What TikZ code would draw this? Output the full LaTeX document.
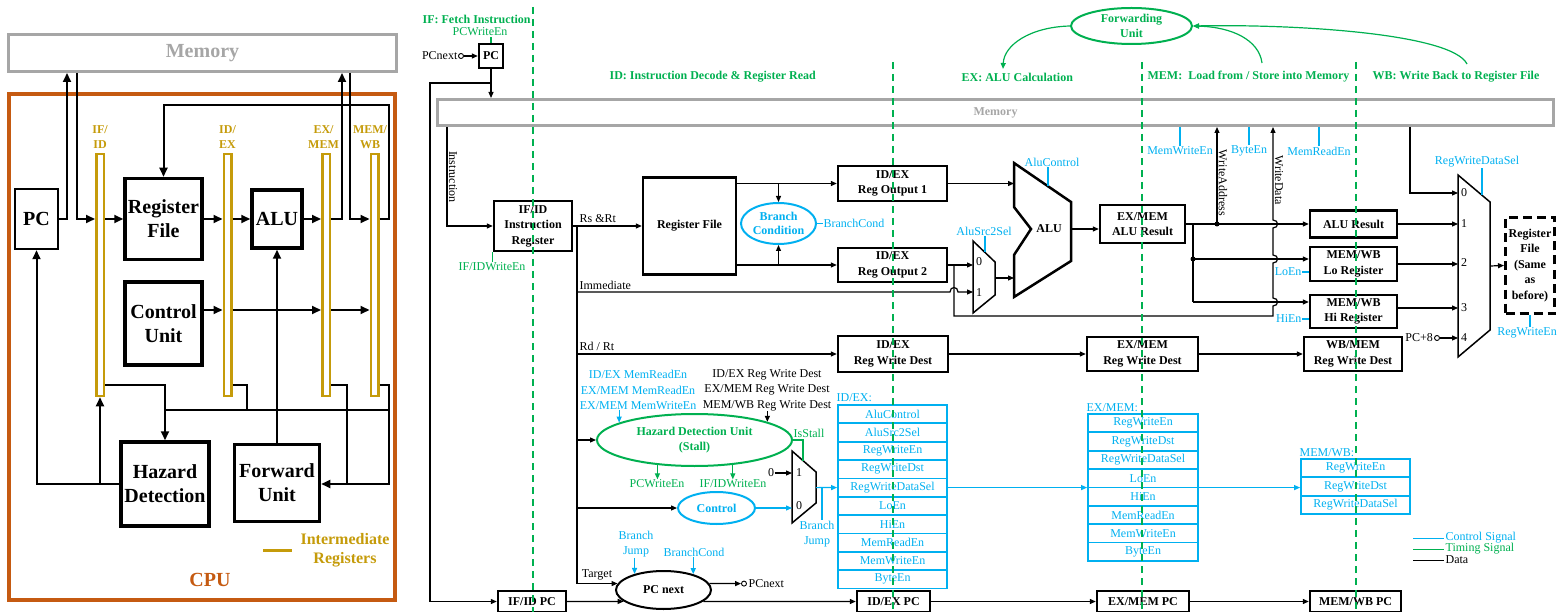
\documentclass[tikz,border=0pt]{standalone}
\usepackage{fontspec}
\setmainfont{Liberation Serif}
\usepackage{xcolor}
\usetikzlibrary{arrows.meta,shapes.geometric}

\definecolor{ctlblue}{RGB}{0,176,240}
\definecolor{timgreen}{RGB}{0,176,80}
\definecolor{regold}{RGB}{197,155,10}
\definecolor{cpuorange}{RGB}{197,90,17}
\definecolor{memgray}{RGB}{166,166,166}

\begin{document}
\begin{tikzpicture}[x=1pt,y=-1pt,line width=1.2pt,>={Triangle[length=6pt,width=5pt]},
  blk/.style={draw,line width=2.4pt,fill=white,align=center,inner sep=0pt,
    font=\bfseries\fontsize{12}{15.5}\selectfont},
  bigblk/.style={draw,line width=3.5pt,fill=white,align=center,inner sep=0pt,
    font=\bfseries\fontsize{20}{24}\selectfont},
  regbar/.style={draw=regold,line width=2.5pt,fill=white,inner sep=0pt,
    minimum width=7.5pt,minimum height=242pt},
  barlbl/.style={text=regold,align=center,inner sep=0pt,
    font=\bfseries\fontsize{12}{15}\selectfont},
  lbl/.style={inner sep=0pt,font=\fontsize{12}{15.5}\selectfont},
  phase/.style={inner sep=0pt,anchor=west,text=timgreen,
    font=\bfseries\fontsize{12}{14}\selectfont},
  oval/.style={ellipse,draw,line width=2pt,fill=white,align=center,inner sep=0pt,
    font=\bfseries\fontsize{12}{14.5}\selectfont},
  ctl/.style={ctlblue},
  tim/.style={timgreen},
  ctlrow/.style={draw=ctlblue,line width=1.8pt,text=ctlblue,inner sep=0pt,
    minimum width=109pt,minimum height=18.35pt,font=\fontsize{12}{13}\selectfont},
  portdot/.style={circle,draw,line width=0.9pt,fill=white,inner sep=0pt,minimum size=5pt},
  mux/.style={line width=1.5pt,fill=white},
  Lline/.style={line width=2pt},
  Larr/.style={line width=2pt,-{Triangle[length=9pt,width=8pt]}}]
  \useasboundingbox (0,0) rectangle (1557,612);

  % ---------------- left: overview of the CPU ----------------
  \node[draw=cpuorange,line width=4pt,minimum width=386pt,minimum height=506pt,inner sep=0pt] (cpu) at (202,347) {};
  \node[draw=memgray,line width=3pt,minimum width=388pt,minimum height=37pt,inner sep=0pt,
        text=memgray,font=\bfseries\fontsize{20}{24}\selectfont] (memL) at (202.5,53) {Memory};
  \node[bigblk,line width=2.5pt,minimum width=43pt,minimum height=60pt] (pcL) at (36.5,219) {PC};
  \node[bigblk,minimum width=77pt,minimum height=81pt] (rfL) at (163.5,219) {Register\\File};
  \node[bigblk,minimum width=50pt,minimum height=58pt] (aluL) at (277,219) {ALU};
  \node[bigblk,minimum width=77pt,minimum height=83pt] (ctlL) at (163.5,323.5) {Control\\Unit};
  \node[bigblk,minimum width=88pt,minimum height=84pt] (hazL) at (165,484) {Hazard\\Detection};
  \node[bigblk,minimum width=85pt,minimum height=77pt] (fwdL) at (277,483) {Forward\\Unit};
  \foreach \nm/\x in {ifidB/100,idexB/227.5,exmemB/326,memwbB/374.5}
    \node[regbar] (\nm) at (\x,275) {};
  \node[barlbl] (ifidT) at (100,137) {IF/\\ID};
  \node[barlbl] (idexT) at (227.5,137) {ID/\\EX};
  \node[barlbl] (exmemT) at (323.5,137) {EX/\\MEM};
  \node[barlbl] (memwbT) at (370,137) {MEM/\\WB};

  \coordinate (pcUp) at (67,0);
  \coordinate (memDn) at (77,0);
  \coordinate (exUp) at (342,0);
  \coordinate (wbDn) at (350,0);
  \coordinate (fbx) at (389,0);
  \coordinate (fby) at (0,105);
  \coordinate (cy) at (0,310);
  \coordinate (ybus1) at (0,385);
  \coordinate (ybus2) at (0,410);
  \coordinate (yfw) at (0,484);
  \coordinate (hx2) at (247,0);
  \coordinate (fx1) at (347,0);

  \draw[Larr] (pcL.east) -| (pcUp |- memL.south);
  \draw[Larr] (memDn |- memL.south) |- (ifidB.west |- pcL.east);
  \draw[Larr] (ifidB.east |- rfL.west) -- (rfL.west);
  \draw[Larr] (rfL.east) -- (idexB.west |- rfL.east);
  \draw[Larr] (idexB.east |- aluL.west) -- (aluL.west);
  \draw[Larr] (aluL.east) -- (exmemB.west |- aluL.east);
  \draw[Larr] (exmemB.east |- aluL.east) -| (exUp |- memL.south);
  \draw[Larr] (wbDn |- memL.south) |- (memwbB.west |- aluL.east);
  \draw[Larr] (memwbB.east |- aluL.east) -| (fbx |- fby) -| (rfL.north);
  \draw[Larr] (ctlL.east |- cy) -- (idexB.west |- cy);
  \draw[Larr] (idexB.east |- cy) -- (exmemB.west |- cy);
  \draw[Larr] (exmemB.east |- cy) -- (memwbB.west |- cy);
  \draw[Larr] (fwdL.north) -- (aluL.south);
  % stage registers feed both hazard detection and forwarding
  \draw[Larr] (ifidB.east |- ybus1) -| (hazL.north);
  \draw[Lline] (idexB.east |- ybus1) -| (hx2 |- ybus2);
  \draw[Lline] (hazL.north |- ybus2) -- (fbx |- ybus2);
  \draw[Lline] (exmemB.east |- ybus1) -| (fx1 |- yfw);
  \draw[Larr] (memwbB.east |- ybus1) -| (fbx |- yfw) -- (fwdL.east |- yfw);
  \draw[Larr] (hazL.west) -| (pcL.south);
  \draw[Larr] (ifidB.south |- hazL.west) -- (ifidB.south);

  \draw[regold,line width=3pt] (263,550) -- (292,550);
  \node[barlbl,font=\bfseries\fontsize{16}{19}\selectfont] (irT) at (345,550) {Intermediate\\Registers};
  \node[text=cpuorange,font=\bfseries\fontsize{20}{24}\selectfont] (cpuT) at (210,580) {CPU};

  % ---------------- right: the five pipeline stages ----------------
  \node[phase] (iflab) at (422,19) {IF: Fetch Instruction};
  \node[phase] (idlab) at (609,77) {ID: Instruction Decode \& Register Read};
  \node[phase] (exlab) at (961,77) {EX: ALU Calculation};
  \node[phase] (memlab) at (1147,77) {MEM:\ \ Load from / Store into Memory};
  \node[phase] (wblab) at (1372,77) {WB: Write Back to Register File};
  \node[oval,draw=timgreen,text=timgreen,minimum width=121pt,minimum height=36pt] (fwd) at (1131.5,26) {Forwarding\\Unit};
  \coordinate (exIn) at (1003,69);
  \coordinate (memOut) at (1262,63);
  \coordinate (wbOut) at (1467,64);
  \draw[tim,->] (fwd.west) .. controls (1030,27) and (1004,45) .. (exIn);
  \draw[tim,<-] (fwd.east) .. controls (1232,27) and (1259,40) .. (memOut);
  \draw[tim,<-] (fwd.east) .. controls (1300,24) and (1452,34) .. (wbOut);

  \node[draw=memgray,line width=3pt,minimum width=1116pt,minimum height=26pt,inner sep=0pt,
        text=memgray,font=\bfseries\fontsize{12}{14}\selectfont] (mem) at (995.5,112.5) {Memory};

  % IF
  \node[blk,minimum width=24pt,minimum height=24pt] (pc) at (491,56) {PC};
  \node[portdot] (pci) at (461,56) {};
  \node[lbl,anchor=east] (pcil) at (458,56) {PCnext};
  \node[lbl,text=timgreen] (pcwe) at (480,32) {PCWriteEn};
  \coordinate (loopx) at (430,0);
  \coordinate (loopy) at (0,83);
  \coordinate (instx) at (447,0);
  \draw[->] (pci.east) -- (pc.west);
  \draw[tim] (pc.north) -- (pc.north |- pcwe.south);
  \draw[->] (pc.south) -- (pc.south |- mem.north);

  % ID
  \node[blk,minimum width=78pt,minimum height=50pt] (ifid) at (533,226) {IF/ID\\Instruction\\Register};
  \node[lbl,text=timgreen] (ifwe) at (492,267) {IF/IDWriteEn};
  \node[lbl,rotate=-90] (instl) at (453,177) {Instruction};
  \node[blk,minimum width=93pt,minimum height=97pt] (rf) at (689.5,226) {Register File};
  \node[oval,draw=ctlblue,text=ctlblue,minimum width=75pt,minimum height=41pt] (brc) at (778.5,223.5) {Branch\\Condition};
  \node[lbl,text=ctlblue,anchor=west] (bcl) at (823,223.5) {BranchCond};
  \node[blk,minimum width=109pt,minimum height=35pt] (idex1) at (892.5,183.5) {ID/EX\\Reg Output 1};
  \node[blk,minimum width=109pt,minimum height=34pt] (idex2) at (892.5,265) {ID/EX\\Reg Output 2};
  \node[blk,minimum width=110pt,minimum height=36pt] (idexrwd) at (893,354) {ID/EX\\Reg Write Dest};
  \node[oval,draw=timgreen,text=timgreen,minimum width=195pt,minimum height=52pt] (hdu) at (694.5,440) {Hazard Detection Unit\\(Stall)};
  \node[oval,draw=ctlblue,text=ctlblue,minimum width=77pt,minimum height=32pt] (ctl) at (716.5,508) {Control};
  \node[oval,minimum width=95pt,minimum height=38pt] (pcnext) at (663.5,590) {PC next};
  \node[blk,minimum width=68pt,minimum height=21pt] (ifidpc) at (532,601.5) {IF/ID PC};
  \node[lbl,text=ctlblue,align=center] (hdin1) at (638,390) {ID/EX MemReadEn\\EX/MEM MemReadEn\\EX/MEM MemWriteEn};
  \node[lbl,align=center] (hdin2) at (767,390) {ID/EX Reg Write Dest\\EX/MEM Reg Write Dest\\MEM/WB Reg Write Dest};
  \node[lbl,text=timgreen] (hdo1) at (657,484) {PCWriteEn};
  \node[lbl,text=timgreen] (hdo2) at (733,484) {IF/IDWriteEn};
  \node[lbl,text=timgreen] (isst) at (809,433) {IsStall};
  \node[lbl,text=ctlblue,align=center] (bjn) at (636,544) {Branch\\Jump};
  \node[lbl,text=ctlblue] (bcn) at (694,552) {BranchCond};
  \node[lbl] (tgt) at (597,575) {Target};
  \node[portdot] (pco) at (744,583.6) {};
  \node[lbl,anchor=west] (pcol) at (748,583.6) {PCnext};

  \coordinate (busx) at (577,0);
  \coordinate (brx) at (778.5,0);
  \coordinate (yImm) at (0,292);
  \draw[->] (pc.south |- loopy) -| (loopx |- ifidpc.west) -- (ifidpc.west);
  \draw[->] (instx |- mem.south) |- (ifid.west);
  \draw[tim] (ifid.south west) -- (ifid.south west |- ifwe.north);
  \draw[->] (ifid.east) -- (rf.west);
  \node[lbl,anchor=south west] (rsrt) at (579,223) {Rs \&Rt};
  \draw (busx |- ifid.east) -- (busx |- pcnext.172);
  \draw[->] (busx |- yImm) -- ++(373,0) .. controls +(0,-6) and +(0,-6) .. ++(8,0) -- (973,292);
  \node[lbl,anchor=south west] (imml) at (579,290) {Immediate};
  \draw[->] (busx |- idexrwd.west) -- (idexrwd.west);
  \node[lbl,anchor=south west] (rdrt) at (579,351) {Rd / Rt};
  \draw[->] (busx |- hdu.west) -- (hdu.west);
  \draw[->] (busx |- ctl.west) -- (ctl.west);
  \draw[->] (busx |- pcnext.172) -- (pcnext.172);
  \draw[->] (rf.east |- idex1.west) -- (idex1.west);
  \draw[->] (rf.east |- idex2.west) -- (idex2.west);
  \draw[->] (brx |- idex1.west) -- (brc.north);
  \draw[->] (brx |- idex2.west) -- (brc.south);
  \draw[ctl] (brc.east) -- (bcl.west);
  \draw[ctl,->] (hdu.167 |- hdin1.south) -- (hdu.167);
  \draw[->] (hdu.14 |- hdin2.south) -- (hdu.14);
  \draw[tim,->] (hdu.214) -- (hdu.214 |- hdo1.north);
  \draw[tim,->] (hdu.327) -- (hdu.327 |- hdo2.north);
  \draw[ctl,->] (pcnext.151 |- bjn.south) -- (pcnext.151);
  \draw[ctl,->] (pcnext.28 |- bcn.south) -- (pcnext.28);
  \draw[->] (pcnext.8) -- (pco.west);

  % stall multiplexer in front of the control word
  \draw[mux] (792,451) -- (816,472) -- (816,503) -- (792,523) -- cycle;
  \coordinate (smin1) at (792,473);
  \coordinate (smL) at (792,0);
  \coordinate (smout) at (816,487.6);
  \coordinate (smtop) at (803,460.6);
  \coordinate (bjx) at (822,487.6);
  \node[lbl] (sm1) at (799,473) {1};
  \node[lbl] (sm0) at (799,506) {0};
  \node[lbl] (zero) at (771,473) {0};
  \node[lbl,text=ctlblue,align=center] (bjm) at (817,534) {Branch\\Jump};
  \draw[->] (zero.east) -- (smin1);
  \draw[ctl,->] (ctl.east) -- (smL |- ctl.east);
  \draw[tim] (hdu.east) -| (smtop);
  \draw[ctl] (bjx) -- (bjx |- bjm.north);

  % control words carried down the pipe
  \node[lbl,text=ctlblue,anchor=west] (idexh) at (836,398) {ID/EX:};
  \foreach \lb [count=\i] in {AluControl,AluSrc2Sel,RegWriteEn,RegWriteDst,RegWriteDataSel,LoEn,HiEn,MemReadEn,MemWriteEn,ByteEn}
    \node[ctlrow] (idexc\i) at (892.5,{405+18.35*(\i-0.5)}) {\lb};
  \node[lbl,text=ctlblue,anchor=west] (exmemh) at (1086,408) {EX/MEM:};
  \foreach \lb [count=\i] in {RegWriteEn,RegWriteDst,RegWriteDataSel,LoEn,HiEn,MemReadEn,MemWriteEn,ByteEn}
    \node[ctlrow,minimum width=110pt] (exmemc\i) at (1143,{414+18.35*(\i-0.5)}) {\lb};
  \node[lbl,text=ctlblue,anchor=west] (memwbh) at (1299,453) {MEM/WB:};
  \foreach \lb [count=\i] in {RegWriteEn,RegWriteDst,RegWriteDataSel}
    \node[ctlrow] (memwbc\i) at (1355.5,{459+18.35*(\i-0.5)}) {\lb};
  \draw[ctl,->] (smout) -- (idexc5.west);
  \draw[ctl,->] (idexc5.east) -- (exmemc1.west |- idexc5.east);
  \draw[ctl,->] (exmemc1.east |- idexc5.east) -- (memwbc2.west |- idexc5.east);

  % EX
  \draw[line width=2.5pt,fill=white] (1014,163) -- (1071,202) -- (1071,261) -- (1014,297)
    -- (1014,255) -- (1031,229) -- (1014,207) -- cycle;
  \node[font=\bfseries\fontsize{12}{14}\selectfont] (alut) at (1049,229) {ALU};
  \coordinate (aluin1) at (1014,183.5);
  \coordinate (aluin2) at (1014,278);
  \coordinate (aluout) at (1071,229);
  \coordinate (alusel) at (1048,186.3);
  \node[lbl,text=ctlblue] (aluc) at (1052,162) {AluControl};
  \draw[mux] (973,241) -- (995,262) -- (995,295) -- (973,313) -- cycle;
  \coordinate (srcin0) at (973,265);
  \coordinate (srcout) at (995,278);
  \coordinate (srcsel) at (985,252.5);
  \node[lbl] (src0) at (979,262) {0};
  \node[lbl] (src1) at (979,293) {1};
  \node[lbl,text=ctlblue] (srcl) at (984,231) {AluSrc2Sel};
  \node[blk,minimum width=85pt,minimum height=38pt] (exalu) at (1142.5,224) {EX/MEM\\ALU Result};
  \node[blk,minimum width=111pt,minimum height=34pt] (exrwd) at (1142.5,354) {EX/MEM\\Reg Write Dest};
  \node[blk,minimum width=73pt,minimum height=21pt] (idexpc) at (893.5,601.5) {ID/EX PC};
  \draw[->] (idex1.east) -- (aluin1);
  \draw[->] (idex2.east) -- (srcin0);
  \draw[->] (srcout) -- (aluin2);
  \draw[ctl] (alusel) -- (alusel |- aluc.south);
  \draw[ctl] (srcsel) -- (srcsel |- srcl.south);
  \draw[->] (aluout) -- (exalu.west |- aluout);
  \draw[->] (idexrwd.east) -- (exrwd.west);
  \draw[->] (ifidpc.east) -- (pcnext.196);
  \draw[->] (pcnext.344) -- (idexpc.west);

  % MEM
  \node[blk,minimum width=87pt,minimum height=27pt] (wbalu) at (1353.5,224) {ALU Result};
  \node[blk,minimum width=87pt,minimum height=34pt] (wblo) at (1353.5,264) {MEM/WB\\Lo Register};
  \node[blk,minimum width=87pt,minimum height=33pt] (wbhi) at (1353.5,311.5) {MEM/WB\\Hi Register};
  \node[blk,minimum width=98pt,minimum height=34pt] (wbrwd) at (1353,354) {WB/MEM\\Reg Write Dest};
  \node[blk,minimum width=92pt,minimum height=21pt] (exmempc) at (1143,601.5) {EX/MEM PC};
  \node[blk,minimum width=91pt,minimum height=21pt] (memwbpc) at (1355.5,601.5) {MEM/WB PC};
  \node[lbl,text=ctlblue,anchor=east] (loen) at (1302,272) {LoEn};
  \node[lbl,text=ctlblue,anchor=east] (hien) at (1302,319) {HiEn};
  \foreach \nm/\x/\lb in {mwe/1180/MemWriteEn,bye/1249/ByteEn,mre/1319/MemReadEn} {
    \node[lbl,text=ctlblue] (\nm) at (\x,151) {\lb};
    \draw[ctl] (\nm.north) -- (\nm.north |- mem.south);
  }
  \node[lbl,rotate=-90] (wal) at (1223,183) {WriteAddress};
  \node[lbl,rotate=-90] (wdl) at (1279,180) {WriteData};
  \coordinate (jA) at (1193,224);
  \coordinate (jLo) at (1193,259);
  \coordinate (jHi) at (1193,302);
  \coordinate (wa) at (1217,224);
  \coordinate (fwx) at (954,0);
  \coordinate (wdx) at (1273,0);
  \coordinate (yWD) at (0,316);
  \draw[->] (exalu.east) -- (wbalu.west);
  \draw (jA) -- (jHi);
  \draw[->] (jLo) -- (wblo.west |- jLo);
  \draw[->] (jHi) -- (wbhi.west |- jHi);
  \fill (wa) circle (2.5pt);
  \fill (jLo) circle (2.5pt);
  \draw[->] (wa) -- (wa |- mem.south);
  % store data hops over the three result lines on its way up
  \draw[->] (fwx |- idex2.east) |- (wdx |- yWD) -- ++(0,-10)
    .. controls +(6,0) and +(6,0) .. ++(0,-8) -- ++(0,-35)
    .. controls +(6,0) and +(6,0) .. ++(0,-8) -- ++(0,-27)
    .. controls +(6,0) and +(6,0) .. ++(0,-8) -- (wdx |- mem.south);
  \draw[ctl] (loen.east) -- (wblo.west |- loen.east);
  \draw[ctl] (hien.east) -- (wbhi.west |- hien.east);
  \draw[->] (exrwd.east) -- (wbrwd.west);
  \draw[->] (idexpc.east) -- (exmempc.west);
  \draw[->] (exmempc.east) -- (memwbpc.west);

  % WB
  \draw[mux] (1458,175) -- (1490,202) -- (1490,330) -- (1458,357) -- cycle;
  \coordinate (wbL) at (1458,0);
  \coordinate (m0x) at (1410,0);
  \coordinate (wbout) at (1490,266);
  \coordinate (wbsel) at (1482,195.3);
  \foreach \n/\yy in {0/193,1/224,2/263,3/308,4/338}
    \node[lbl] (wbn\n) at (1464,\yy) {\n};
  \node[lbl,text=ctlblue] (rwds) at (1477,162) {RegWriteDataSel};
  \node[blk,dash pattern=on 9pt off 5pt,line width=3pt,minimum width=49pt,minimum height=96pt] (rfwb) at (1530,265.5) {Register\\File\\(Same\\as\\before)};
  \node[lbl,text=ctlblue] (rwe) at (1527,333) {RegWriteEn};
  \node[portdot] (p8) at (1437,338) {};
  \node[lbl,anchor=east] (p8l) at (1433.5,338) {PC+8};
  \draw[->] (m0x |- mem.south) |- (wbL |- wbn0);
  \draw[->] (wbalu.east) -- (wbL |- wbalu.east);
  \draw[->] (wblo.east) -- (wbL |- wblo.east);
  \draw[->] (wbhi.east |- wbn3) -- (wbL |- wbn3);
  \draw[->] (p8.east) -- (wbL |- p8);
  \draw[->] (wbout) -- (rfwb.west);
  \draw[ctl] (wbsel) -- (wbsel |- rwds.south);
  \draw[ctl] (rfwb.south) -- (rfwb.south |- rwe.north);

  % legend
  \foreach \cl/\lb/\yy [count=\k] in {ctlblue/Control Signal/538,timgreen/Timing Signal/549,black/Data/560} {
    \draw[\cl,line width=0.9pt] (1413,\yy) -- (1444,\yy);
    \node[lbl,text=\cl,anchor=west] (leg\k) at (1445,\yy) {\lb};
  }

  % stage boundaries go on top of everything
  \foreach \x/\y in {533/7,893/62,1142/62,1356/62}
    \draw[tim,line width=1.8pt,dash pattern=on 7pt off 5pt] (\x,\y) -- (\x,612);
\end{tikzpicture}
\end{document}
